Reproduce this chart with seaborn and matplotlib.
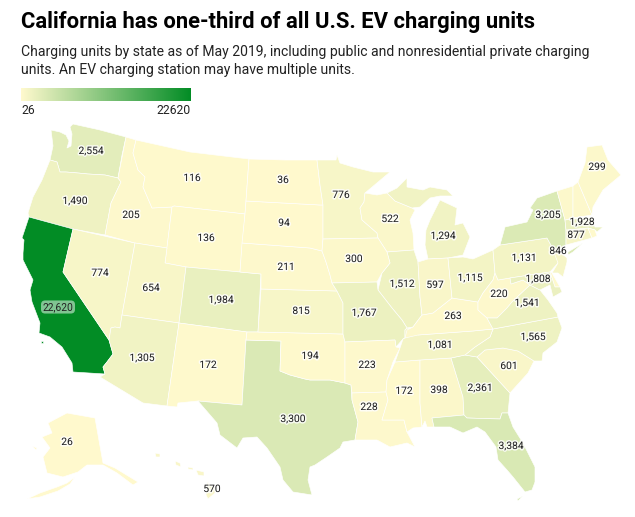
import matplotlib
matplotlib.use("Agg")
import matplotlib.pyplot as plt
import matplotlib.patheffects as pe
from matplotlib.patches import Polygon
import numpy as np
import seaborn as sns

sns.set_theme(style="white")
plt.rcParams["font.family"] = ["Roboto", "DejaVu Sans"]

TITLE = "California has one-third of all U.S. EV charging units"
SUBTITLE = ("Charging units by state as of May 2019, including public and nonresidential private charging\n"
            "units. An EV charging station may have multiple units.")
LOW_COLOR = "#fff9cd"
HIGH_COLOR = "#028c25"

states = ["WA","OR","CA","NV","ID","MT","WY","UT","CO","AZ","NM","TX","OK","KS","NE","SD","ND","MN","WI","MI",
          "IL","IA","MO","AR","LA","MS","AL","GA","FL","SC","NC","TN","KY","IN","OH","WV","VA","PA","NY","NJ",
          "DE","MD","CT","MA","RI","VT","NH","ME","AK","HI"]
values = [2554,1490,22620,774,205,116,136,654,1984,1305,172,3300,194,815,211,94,36,776,522,1294,
          1512,300,1767,223,228,172,398,2361,3384,601,1565,1081,263,597,1115,220,1541,1131,3205,846,
          200,1808,877,1928,150,300,250,299,26,570]
# labelled states only; small eastern states without a printed label are listed as unlabelled
unlabelled = ["DE","RI","VT","NH"]
label_x = [91,75,58,100,131,192,206,151,221,142,208,293,310,301,286,284,283,341,390,443,
           402,354,364,367,369,404,439,480,511,509,533,440,453,435,470,499,527,524,548,558,
           0,538,576,582,0,0,0,597,67,212]
label_y = [151,201,307,273,215,178,238,288,300,358,365,419,356,311,267,223,180,195,219,236,
           284,259,313,365,407,391,390,388,446,366,337,345,316,285,278,294,303,258,215,251,
           0,279,235,222,0,0,0,167,442,489]

shapes = {
 "WA": [[(73,124),(100,130),(126,137),(122,155),(118,178),(105,175),(88,174),(78,173),(66,172),(60,172),(57,162),(50,160),(53,146),(51,130),(60,132),(66,135),(69,141),(67,148),(71,146),(72,134),(70,127)]],
 "OR": [[(50,160),(57,162),(60,172),(66,172),(78,173),(88,174),(105,175),(118,178),(121,182),(111,203),(105,235),(73,229),(29,217),(28,213),(33,197),(42,180)]],
 "CA": [[(29,217),(73,229),(63,272),(109,340),(113,354),(107,362),(103,367),(105,374),(73,372),(72,363),(67,355),(62,347),(50,337),(39,333),(40,323),(32,302),(30,290),(33,280),(28,270),(23,260),(23,253),(24,240),(22,238)],[(41,341),(43,341),(43,343),(41,343)]],
 "NV": [[(73,229),(135,243),(122,315),(120,328),(115,327),(111,328),(109,340),(63,272)]],
 "ID": [[(126,137),(136,140),(133,153),(138,170),(145,177),(143,187),(152,208),(172,207),(167,248),(135,243),(105,235),(111,203),(121,182),(118,178)]],
 "MT": [[(136,140),(190,152),(249,159),(246,201),(245,214),(174,206),(172,207),(152,208),(143,187),(145,177),(138,170),(133,153)]],
 "WY": [[(172,207),(174,206),(245,214),(240,272),(186,267),(165,263)]],
 "UT": [[(135,243),(167,248),(165,263),(186,267),(179,323),(122,315)]],
 "CO": [[(186,267),(240,272),(261,274),(258,332),(247,332),(179,323)]],
 "AZ": [[(122,315),(179,323),(167,406),(143,403),(100,377),(105,374),(103,367),(107,362),(113,354),(109,340),(111,328),(115,327),(120,328)]],
 "NM": [[(179,323),(247,332),(246,340),(242,405),(198,401),(178,403),(177,407),(167,406)]],
 "TX": [[(246,340),(281,341),(280,371),(290,375),(305,379),(310,380),(330,380),(345,383),(351,385),(352,400),(358,422),(355,440),(343,442),(340,448),(327,457),(315,465),(310,467),(308,480),(312,495),(293,492),(283,480),(280,467),(267,448),(257,437),(243,438),(237,448),(220,435),(217,423),(198,401),(242,405)]],
 "OK": [[(247,332),(258,332),(343,334),(345,342),(345,383),(330,380),(310,380),(305,379),(290,375),(280,371),(281,341),(246,340)]],
 "KS": [[(261,289),(337,291),(343,303),(343,334),(258,332)]],
 "NE": [[(242,243),(310,248),(322,251),(326,262),(330,275),(332,283),(337,291),(261,289),(261,274),(240,272)]],
 "SD": [[(246,201),(320,205),(323,205),(323,239),(322,251),(310,248),(242,243),(245,214)]],
 "ND": [[(249,159),(285,160),(317,160),(320,185),(323,205),(320,205),(246,201)]],
 "MN": [[(317,160),(336,160),(337,155),(340,163),(353,167),(373,172),(390,172),(365,193),(364,202),(360,208),(362,220),(377,233),(378,238),(323,239),(323,205),(320,185)]],
 "WI": [[(365,193),(377,195),(387,193),(395,201),(412,208),(415,210),(410,220),(413,233),(414,250),(387,252),(378,238),(377,233),(362,220),(360,208),(364,202)]],
 "MI": [[(387,193),(397,188),(407,178),(407,187),(423,190),(430,187),(447,190),(453,196),(440,196),(430,198),(420,207),(412,208),(395,201)],
        [(440,200),(457,208),(455,225),(463,223),(470,237),(463,255),(448,258),(428,259),(425,245),(426,230),(430,220),(435,210)]],
 "IL": [[(387,252),(414,250),(418,262),(420,297),(422,315),(413,327),(407,328),(402,320),(392,308),(378,290),(382,273),(390,263)]],
 "IA": [[(323,239),(378,238),(387,252),(390,263),(382,273),(377,282),(332,283),(330,275),(326,262),(322,251)]],
 "MO": [[(332,283),(377,282),(378,290),(392,308),(402,320),(407,328),(405,330),(405,338),(403,339),(396,347),(395,340),(345,342),(343,334),(343,303),(337,291)]],
 "AR": [[(345,342),(395,340),(396,347),(400,348),(393,362),(387,380),(386,392),(352,393),(351,385),(345,383)]],
 "LA": [[(352,393),(386,392),(388,400),(382,420),(404,420),(407,432),(415,447),(407,443),(390,447),(377,440),(360,440),(355,440),(358,422),(352,400)]],
 "MS": [[(395,362),(420,360),(420,403),(422,427),(413,428),(407,432),(404,420),(382,420),(388,400),(386,392),(387,380)]],
 "AL": [[(420,360),(451,358),(463,397),(464,415),(432,418),(434,427),(427,427),(425,421),(422,427),(420,403)]],
 "GA": [[(451,358),(465,355),(477,357),(510,393),(508,413),(502,413),(500,419),(467,418),(464,415),(463,397)]],
 "FL": [[(432,418),(464,415),(467,418),(500,419),(502,413),(508,413),(513,427),(523,443),(535,467),(535,482),(532,490),(525,492),(513,477),(507,470),(498,460),(496,447),(485,432),(477,427),(463,433),(450,427),(434,427)],
        [(517,499),(523,496),(518,501)]],
 "SC": [[(477,357),(485,350),(503,348),(518,351),(534,361),(528,373),(510,393)]],
 "NC": [[(493,329),(558,317),(562,328),(557,342),(543,353),(542,361),(534,361),(518,351),(503,348),(485,350),(477,357),(465,355),(475,347),(490,337)]],
 "TN": [[(407,328),(413,330),(418,335),(473,331),(493,329),(490,337),(475,347),(465,355),(451,358),(420,360),(395,362),(400,348),(403,339),(405,338),(405,330)]],
 "KY": [[(407,330),(413,327),(422,315),(433,313),(452,298),(478,302),(478,310),(487,318),(493,329),(473,331),(418,335),(405,338)]],
 "IN": [[(418,262),(428,259),(448,258),(452,298),(433,313),(422,315),(420,297)]],
 "OH": [[(448,258),(463,257),(473,259),(493,250),(495,273),(493,280),(483,293),(478,302),(452,298)]],
 "WV": [[(495,273),(498,280),(510,278),(511,284),(523,280),(530,285),(512,302),(507,308),(497,318),(487,318),(478,310),(478,302),(483,293),(493,280)]],
 "VA": [[(493,329),(487,318),(497,318),(507,308),(512,302),(530,285),(540,290),(548,300),(557,313),(558,317)]],
 "PA": [[(493,250),(500,245),(547,238),(552,247),(558,250),(558,263),(550,272),(510,278),(498,280),(495,273)]],
 "NY": [[(500,245),(505,227),(527,222),(533,210),(530,208),(537,198),(557,191),(565,220),(566,230),(566,245),(558,250),(552,247),(547,238)],
        [(568,252),(583,243),(573,252),(568,255)]],
 "NJ": [[(552,247),(558,250),(567,258),(567,262),(563,277),(558,273),(552,273),(558,263)]],
 "DE": [[(550,272),(552,273),(560,287),(555,287)]],
 "MD": [[(510,278),(550,272),(555,287),(560,287),(562,292),(553,297),(550,285),(540,290),(530,285),(523,280),(511,284)]],
 "CT": [[(566,230),(588,228),(592,238),(566,245)]],
 "MA": [[(565,220),(592,217),(595,227),(603,227),(597,232),(595,230),(588,228),(566,230)]],
 "RI": [[(588,228),(595,230),(597,236),(592,238)]],
 "VT": [[(557,191),(573,186),(573,207),(573,218),(565,220)]],
 "NH": [[(573,186),(578,182),(592,215),(573,218),(573,207)]],
 "ME": [[(578,182),(585,163),(587,147),(602,145),(608,160),(621,175),(603,190),(593,207),(592,215)]],
 "AK": [[(48,423),(67,413),(95,418),(103,463),(115,468),(138,482),(133,485),(117,473),(103,465),(87,465),(78,472),(63,477),(47,473),(43,457),(50,448),(42,437),(52,433)],
        [(27,499),(40,493),(57,487),(67,483),(75,477),(70,484),(58,491),(40,497)],[(32,446),(37,448),(36,450)]],
 "HI": [[(155,453),(160,454),(160,457),(156,457)],[(175,461),(180,463),(181,467),(176,465)],[(188,467),(193,468),(193,470),(188,469)],[(196,470),(204,472),(204,476),(198,475)],[(207,482),(215,488),(215,493),(208,499),(206,495)]],
}

cmap = sns.blend_palette([LOW_COLOR, HIGH_COLOR], as_cmap=True)
vmin, vmax = 26, 22620

fig = plt.figure(figsize=(6.35, 5.17), dpi=100, facecolor="white")
ax = fig.add_axes([0, 0, 1, 1])
ax.set_xlim(0, 635)
ax.set_ylim(517, 0)
ax.axis("off")

for st, val in zip(states, values):
    color = cmap((val - vmin) / (vmax - vmin))
    for part in shapes[st]:
        ax.add_patch(Polygon(part, closed=True, facecolor=color, edgecolor="white", linewidth=0.45, joinstyle="round"))

halo = [pe.withStroke(linewidth=2.2, foreground=(1, 1, 1, 0.8))]
for st, val, x, y in zip(states, values, label_x, label_y):
    if st in unlabelled:
        continue
    if st == "CA":
        ax.text(x, y, f"{val:,}", fontsize=7.4, color="#222222", ha="center", va="center",
                bbox=dict(boxstyle="round,pad=0.15,rounding_size=0.4", facecolor=(1, 1, 1, 0.5), edgecolor="none"))
    else:
        ax.text(x, y, f"{val:,}", fontsize=7.4, color="#222222", ha="center", va="center", path_effects=halo)

ax.text(21, 22, TITLE, fontsize=15.85, fontweight="bold", color="black", ha="left", va="center")
ax.text(21, 61, SUBTITLE, fontsize=10.1, color="#222222", ha="left", va="center", linespacing=1.3)

# colour legend
cax = fig.add_axes([21/635, 1-101/517, 170/635, 13/517])
sns.heatmap(np.linspace(vmin, vmax, 256)[None, :], ax=cax, cmap=cmap, vmin=vmin, vmax=vmax,
            cbar=False, xticklabels=False, yticklabels=False, rasterized=True)
cax.set_xlabel("")
ax.text(21, 110, f"{vmin}", fontsize=8.7, color="#222222", ha="left", va="center")
ax.text(191, 110, f"{vmax}", fontsize=8.7, color="#222222", ha="right", va="center")

fig.savefig("out.png", dpi=100, facecolor="white")
